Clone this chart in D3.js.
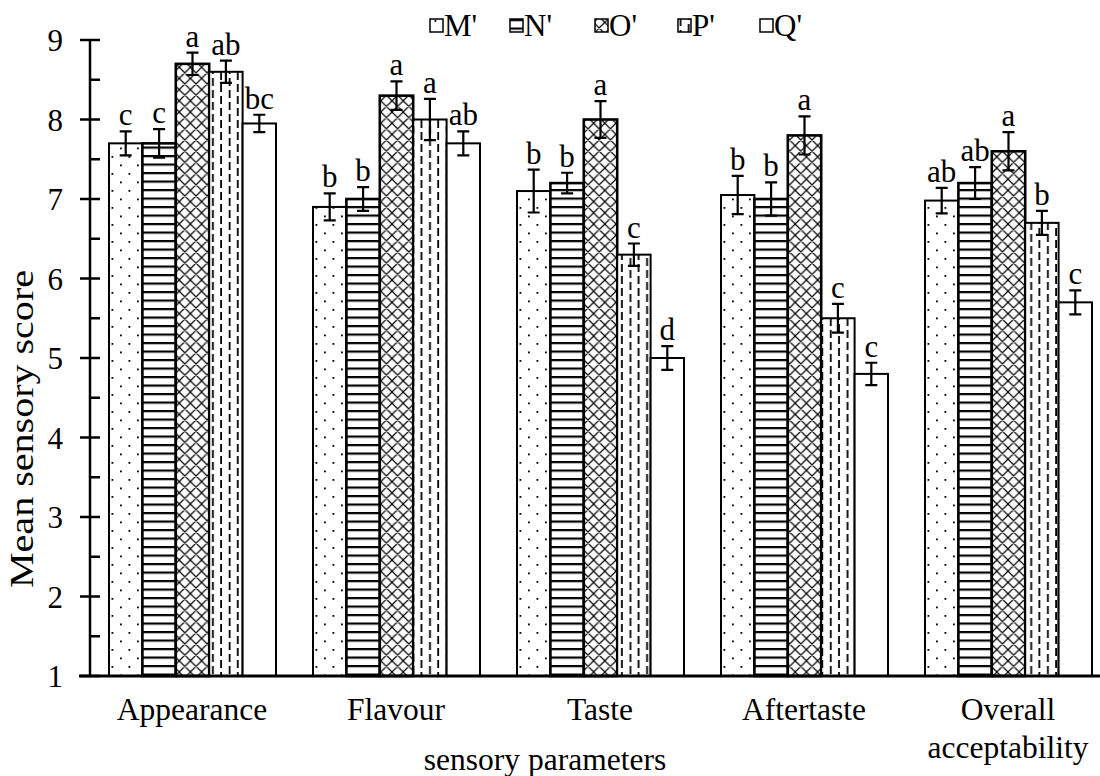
<!DOCTYPE html>
<html><head><meta charset="utf-8">
<script src="https://cdn.jsdelivr.net/npm/d3@7"></script>
<style>
html,body{margin:0;padding:0;background:#fff;}
svg{display:block;font-family:"Liberation Serif","Times New Roman",serif;}
</style></head>
<body>
<svg id="chart" width="1100" height="776"></svg>
<script>
const categories = ["Appearance","Flavour","Taste","Aftertaste","Overall acceptability"];
const seriesNames = ["M'","N'","O'","P'","Q'"];
const valuesM = [7.7, 6.9, 7.1, 7.05, 6.98];
const valuesN = [7.7, 7.0, 7.2, 7.0, 7.2];
const valuesO = [8.7, 8.3, 8.0, 7.8, 7.6];
const valuesP = [8.6, 8.0, 6.3, 5.5, 6.7];
const valuesQ = [7.95, 7.7, 5.0, 4.8, 5.7];
const errM = [0.15, 0.17, 0.27, 0.24, 0.16];
const errN = [0.18, 0.15, 0.13, 0.21, 0.2];
const errO = [0.14, 0.18, 0.23, 0.24, 0.24];
const errP = [0.14, 0.26, 0.14, 0.18, 0.15];
const errQ = [0.11, 0.15, 0.15, 0.14, 0.15];
const lettersM = ["c","b","b","b","ab"];
const lettersN = ["c","b","b","b","ab"];
const lettersO = ["a","a","a","a","a"];
const lettersP = ["ab","a","c","c","b"];
const lettersQ = ["bc","ab","d","c","c"];
const yTicks = [1,2,3,4,5,6,7,8,9];
const yMinorTicks = [1.5,2.5,3.5,4.5,5.5,6.5,7.5,8.5];

const allValues = [valuesM, valuesN, valuesO, valuesP, valuesQ];
const allErr = [errM, errN, errO, errP, errQ];
const allLetters = [lettersM, lettersN, lettersO, lettersP, lettersQ];
const patternIds = ["pM","pN","pO","pP","pQ"];

const svg = d3.select("#chart");
const defs = svg.append("defs");

// dots
const pM = defs.append("pattern").attr("id","pM").attr("patternUnits","userSpaceOnUse")
  .attr("width",17).attr("height",17).attr("x",109).attr("y",0);
pM.append("rect").attr("width",17).attr("height",17).attr("fill","#fff");
pM.append("rect").attr("x",2.5).attr("y",3).attr("width",1.8).attr("height",1.8).attr("fill","#000");
pM.append("rect").attr("x",11).attr("y",11.5).attr("width",1.8).attr("height",1.8).attr("fill","#000");
// horizontal lines
const pN = defs.append("pattern").attr("id","pN").attr("patternUnits","userSpaceOnUse")
  .attr("width",10).attr("height",8.5).attr("y",2);
pN.append("rect").attr("width",10).attr("height",8.5).attr("fill","#fff");
pN.append("rect").attr("x",0).attr("y",0).attr("width",10).attr("height",2.2).attr("fill","#000");
// crosshatch
const pO = defs.append("pattern").attr("id","pO").attr("patternUnits","userSpaceOnUse")
  .attr("width",11.2).attr("height",11.2).attr("x",0).attr("y",0);
pO.append("rect").attr("width",11.2).attr("height",11.2).attr("fill","#fff");
pO.append("path").attr("d","M0,0L11.2,11.2M11.2,0L0,11.2M-1,10.2L1,12.2M10.2,-1L12.2,1M-1,1L1,-1M10.2,12.2L12.2,10.2")
  .attr("stroke","#000").attr("stroke-width",1.2).attr("fill","none");
// dashed vertical
const pP = defs.append("pattern").attr("id","pP").attr("patternUnits","userSpaceOnUse")
  .attr("width",16.7).attr("height",24).attr("x",0).attr("y",0);
pP.append("rect").attr("width",16.7).attr("height",24).attr("fill","#fff");
pP.append("path").attr("d","M4,0V8M4,12V20M12.5,6V14M12.5,18V26M12.5,-6V2")
  .attr("stroke","#000").attr("stroke-width",1.8).attr("fill","none");
// blank
const pQ = defs.append("pattern").attr("id","pQ").attr("patternUnits","userSpaceOnUse")
  .attr("width",10).attr("height",10);
pQ.append("rect").attr("width",10).attr("height",10).attr("fill","#fff");

const x0 = d3.scaleBand().domain(categories).range([90,1110]).padding(0);
const x1 = d3.scaleBand().domain(seriesNames).range([19,186]).padding(0);
const y = d3.scaleLinear().domain([1,9]).range([676,40]);

const data = [];
categories.forEach((c,i)=>{
  seriesNames.forEach((s,j)=>{
    data.push({cat:c, ser:s, j, v:allValues[j][i], e:allErr[j][i], l:allLetters[j][i]});
  });
});

const g = svg.append("g");
g.selectAll("rect.bar").data(data).enter().append("rect")
  .attr("class","bar")
  .attr("x",d=>x0(d.cat)+x1(d.ser))
  .attr("y",d=>y(d.v))
  .attr("width",x1.bandwidth())
  .attr("height",d=>y(1)-y(d.v))
  .attr("fill",d=>`url(#${patternIds[d.j]})`)
  .attr("stroke","#000")
  .attr("stroke-width",d=> (d.j===1||d.j===2)?2.6:2);

// error bars
const eg = svg.append("g").attr("stroke","#000").attr("stroke-width",2.2).attr("fill","none");
data.forEach(d=>{
  const cx = x0(d.cat)+x1(d.ser)+x1.bandwidth()/2;
  const t = y(d.v+d.e), b = y(d.v-d.e);
  eg.append("path").attr("d",`M${cx},${t}V${b}M${cx-6},${t}H${cx+6}M${cx-6},${b}H${cx+6}`);
});
// letters
svg.append("g").selectAll("text").data(data).enter().append("text")
  .attr("x",d=>x0(d.cat)+x1(d.ser)+x1.bandwidth()/2)
  .attr("y",d=>y(d.v+d.e)-6)
  .attr("text-anchor","middle")
  .attr("font-size",31)
  .text(d=>d.l);

// y axis
const ya = svg.append("g");
ya.append("line").attr("x1",90).attr("x2",90).attr("y1",y(9)).attr("y2",y(1)).attr("stroke","#000").attr("stroke-width",2.5);
ya.selectAll("line.maj").data(yTicks).enter().append("line")
  .attr("x1",80).attr("x2",100).attr("y1",d=>y(d)).attr("y2",d=>y(d)).attr("stroke","#000").attr("stroke-width",2.5);
ya.selectAll("line.min").data(yMinorTicks).enter().append("line")
  .attr("x1",90).attr("x2",100).attr("y1",d=>y(d)).attr("y2",d=>y(d)).attr("stroke","#000").attr("stroke-width",2.5);
ya.selectAll("text").data(yTicks).enter().append("text")
  .attr("x",63).attr("y",d=>y(d)+11).attr("text-anchor","end").attr("font-size",31).text(d=>d);

// x axis line
svg.append("line").attr("x1",79).attr("x2",1100).attr("y1",y(1)).attr("y2",y(1)).attr("stroke","#000").attr("stroke-width",3);

// category labels
const cl = svg.append("g");
categories.forEach(c=>{
  const cx = x0(c)+x0.bandwidth()/2;
  const parts = c==="Overall acceptability" ? ["Overall","acceptability"] : [c];
  parts.forEach((p,k)=>{
    cl.append("text").attr("x",cx).attr("y",720+k*38).attr("text-anchor","middle").attr("font-size",31.5).text(p);
  });
});

// axis titles
svg.append("text").attr("x",545).attr("y",770).attr("text-anchor","middle").attr("font-size",31.5).text("sensory parameters");
svg.append("text").attr("transform","translate(33,429) rotate(-90)").attr("text-anchor","middle")
  .attr("font-size",34).attr("textLength",318).attr("lengthAdjust","spacingAndGlyphs").text("Mean sensory score");

// legend
const legX = [430,510,595,678,760];
const lg = svg.append("g");
seriesNames.forEach((s,j)=>{
  lg.append("rect").attr("x",legX[j]).attr("y",19).attr("width",13).attr("height",13)
    .attr("fill",`url(#${patternIds[j]})`).attr("stroke","#000").attr("stroke-width",1.5);
  lg.append("text").attr("x",legX[j]+14).attr("y",36).attr("font-size",31).text(s);
});
</script>
</body></html>
